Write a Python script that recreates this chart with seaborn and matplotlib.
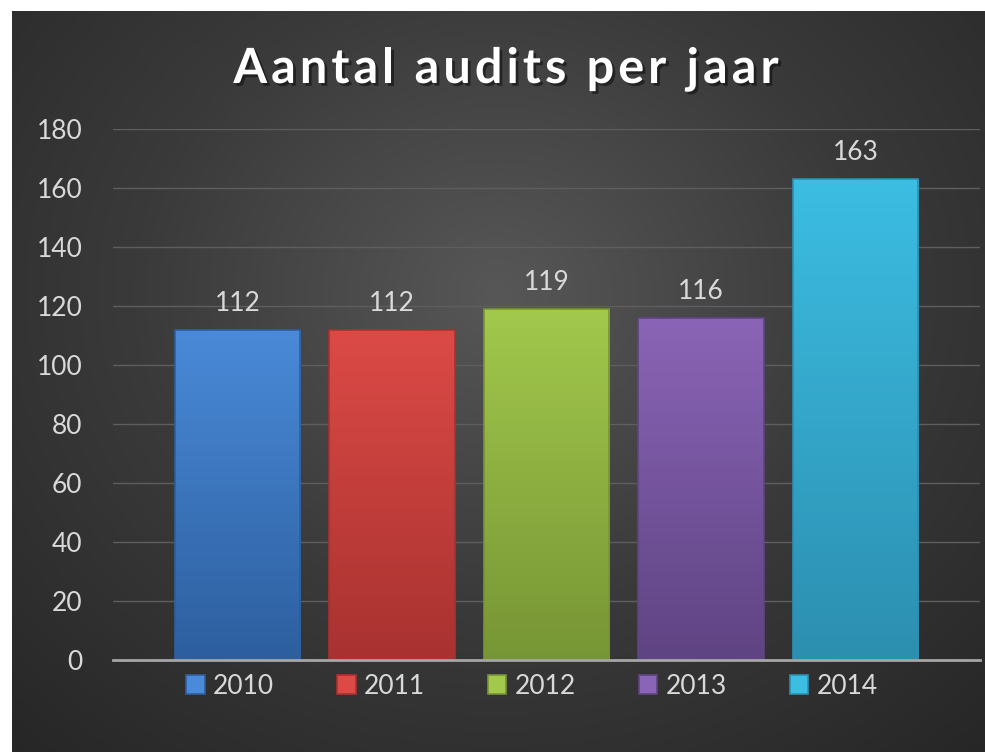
import numpy as np
import matplotlib
matplotlib.use("Agg")
import matplotlib.pyplot as plt
import matplotlib.patheffects as pe
from matplotlib.patches import Patch
from matplotlib.colors import LinearSegmentedColormap
import seaborn as sns

years = ['2010', '2011', '2012', '2013', '2014']
audits = [112, 112, 119, 116, 163]
top_colors = ['#4a8ad8', '#dc4a46', '#a2c84c', '#8a64b6', '#3cbde2']
bottom_colors = ['#2d5f9f', '#a83230', '#779535', '#5f4483', '#2c8fb0']
title = 'Aantal audits per jaar'

sns.set_theme(style="dark")
plt.rcParams['font.family'] = ['Lato', 'DejaVu Sans']
txt = '#d9d9d9'

fig = plt.figure(figsize=(9.85, 7.52), dpi=100)
fig.patch.set_facecolor('white')

# radial background
bg = fig.add_axes([12 / 985, 0, 1 - 12 / 985, 1 - 11 / 752])
yy, xx = np.mgrid[0:1:300j, 0:1:400j]
r = np.sqrt(((xx - 0.5) / 0.75) ** 2 + ((yy - 0.38) / 0.85) ** 2)
bgcmap = LinearSegmentedColormap.from_list('bg', ['#575757', '#3a3a3a', '#262626'])
bg.imshow(np.clip(r, 0, 1), cmap=bgcmap, aspect='auto', extent=(0, 1, 1, 0), vmin=0, vmax=1)
bg.set_axis_off()

ax = fig.add_axes([113 / 985, 1 - 660 / 752, (980 - 113) / 985, (660 - 129) / 752])
ax.set_facecolor('none')
sns.barplot(x=years, y=audits, hue=years, palette=top_colors, legend=False,
            width=0.81, ax=ax, zorder=3)

for bar, c1, c2, v in zip(ax.patches, top_colors, bottom_colors, audits):
    x0, w, h = bar.get_x(), bar.get_width(), bar.get_height()
    cm = LinearSegmentedColormap.from_list('b', [c2, c1])
    grad = np.linspace(0, 1, 100).reshape(-1, 1)
    im = ax.imshow(grad, cmap=cm, aspect='auto', origin='lower',
                   extent=(x0, x0 + w, 0, h), zorder=3)
    im.set_clip_path(bar)
    bar.set_edgecolor(c2)
    bar.set_linewidth(1.2)
    bar.set_zorder(4)
    bar.set_facecolor('none')
    ax.annotate(f'{v}', (x0 + w / 2, h), xytext=(0, 10), textcoords='offset points',
                ha='center', va='bottom', fontsize=19, color=txt)

ax.set_xlim(-0.806, 4.806)
ax.set_ylim(0, 180)
ax.set_yticks(range(0, 181, 20))
ax.set_xticks([])
ax.yaxis.grid(True, color='#5e5e5e', linewidth=1)
ax.xaxis.grid(False)
ax.tick_params(axis='y', colors=txt, labelsize=19, length=0, pad=22)
for s in ['top', 'right', 'left']:
    ax.spines[s].set_visible(False)
ax.spines['bottom'].set_color('#a6a6a6')
ax.spines['bottom'].set_linewidth(2)
ax.spines['bottom'].set_zorder(5)
ax.set_xlabel('')
ax.set_ylabel('')

# letter-spaced title
renderer = fig.canvas.get_renderer()
shadow = [pe.withSimplePatchShadow(offset=(2, -2), shadow_rgbFace='black', alpha=0.45)]
kw = dict(fontsize=35, fontweight='bold', color='white', va='baseline', path_effects=shadow)
spacing = 4  # px between letters
widths = []
for ch in title:
    t = fig.text(0, 0, ch if ch != ' ' else 'n', **kw)
    wpx = t.get_window_extent(renderer).width
    if ch == ' ':
        wpx *= 0.45
    widths.append(wpx)
    t.remove()
total = sum(widths) + spacing * (len(title) - 1)
xpos = 506 - total / 2
for ch, wpx in zip(title, widths):
    if ch != ' ':
        fig.text(xpos / 985, 1 - 83 / 752, ch, ha='left', **kw)
    xpos += wpx + spacing

handles = [Patch(facecolor=c1, edgecolor=c2, linewidth=1.2) for c1, c2 in zip(top_colors, bottom_colors)]
leg = fig.legend(handles, years, loc='center', bbox_to_anchor=(0.54, 1 - 686 / 752), ncol=5,
                 frameon=False, fontsize=19, labelcolor=txt, handlelength=0.7,
                 handleheight=0.7, handletextpad=0.3, columnspacing=2.4)

fig.savefig('out.png', dpi=100, facecolor=fig.get_facecolor())
